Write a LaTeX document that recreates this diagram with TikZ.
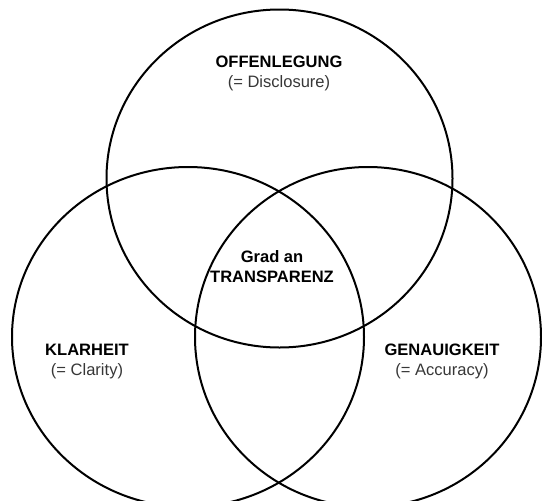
\documentclass[tikz,border=0pt]{standalone}
\usepackage{fontspec}
\setmainfont{Liberation Sans}
\usetikzlibrary{positioning}
\definecolor{ink}{RGB}{0,0,0}
\definecolor{subink}{RGB}{55,55,55}

\tikzset{
  venn/.style={draw=ink,line width=1.5pt},
  setlabel/.style={align=center,inner sep=0pt,text=ink,
    font=\fontsize{12.4}{14.6}\selectfont},
}
\newcommand{\setname}[2]{\textbf{#1}\\{\color{subink}#2}}

\begin{document}
\begin{tikzpicture}[x=0.75pt,y=-0.75pt]
  \useasboundingbox (0,0) rectangle (542,500);
  % set centres
  \coordinate (top) at (279.5,178.5);
  \coordinate (left) at (188,337);
  \coordinate (right) at (368,337);
  \draw[venn] (top) ellipse [x radius=173, y radius=169];
  \draw[venn] (left) ellipse [x radius=176, y radius=170];
  \draw[venn] (right) ellipse [x radius=173, y radius=170];
  % labels
  \node[setlabel] (offen) at (279,73.5) {\setname{OFFENLEGUNG}{(= Disclosure)}};
  \node[setlabel] (klar) at (87,361.5) {\setname{KLARHEIT}{(= Clarity)}};
  \node[setlabel] (genau) at (442,361.5) {\setname{GENAUIGKEIT}{(= Accuracy)}};
  \node[setlabel,font=\fontsize{12.4}{14.6}\selectfont\bfseries] (grad)
    at (272,266.8) {Grad an\\TRANSPARENZ};
\end{tikzpicture}
\end{document}
